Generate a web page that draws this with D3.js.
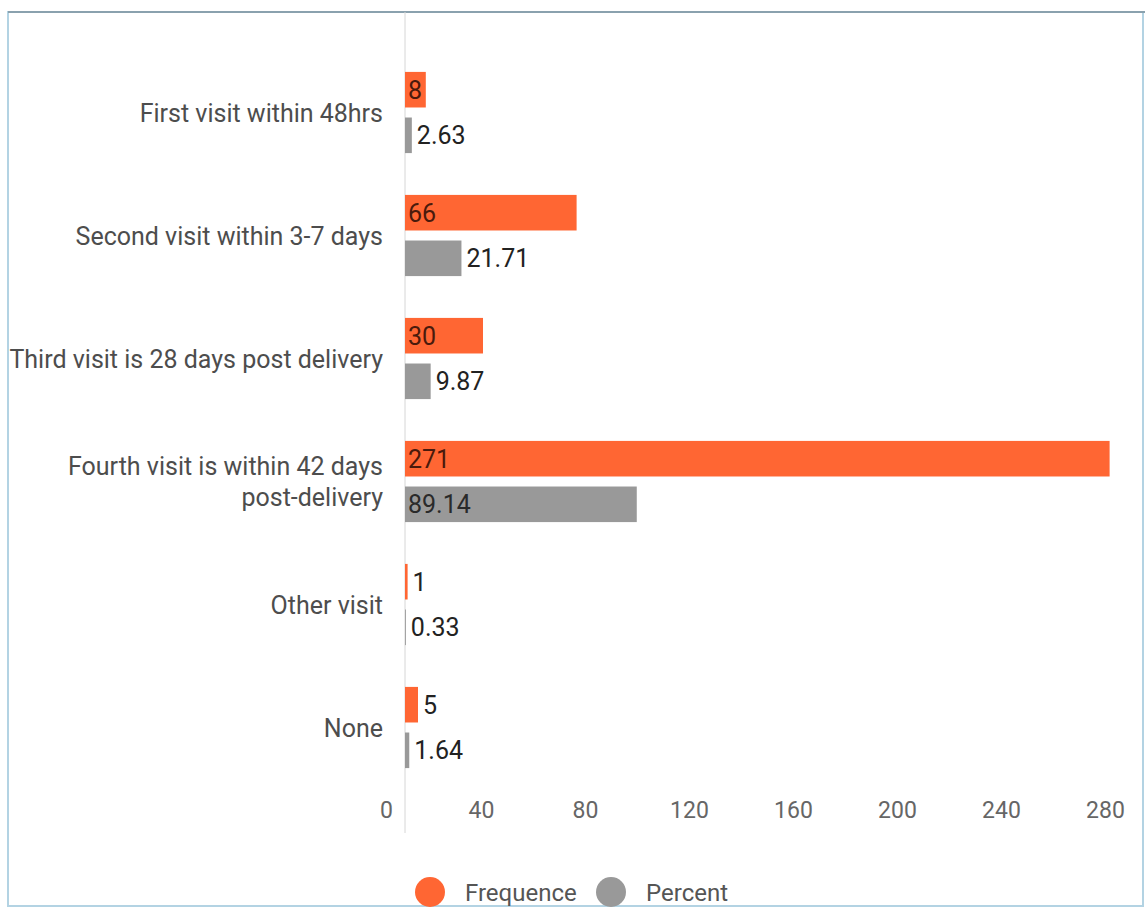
<!DOCTYPE html>
<html>
<head>
<meta charset="utf-8">
<script src="https://cdn.jsdelivr.net/npm/d3@7/dist/d3.min.js"></script>
<style>
  html, body { margin: 0; padding: 0; background: #fff; }
  svg { display: block; font-family: Roboto, "Noto Sans", sans-serif; }
</style>
</head>
<body>
<svg id="chart" width="1145" height="908"></svg>
<script>
const categories = [
  "First visit within 48hrs",
  "Second visit within 3-7 days",
  "Third visit is 28 days post delivery",
  "Fourth visit is within 42 days post-delivery",
  "Other visit",
  "None"
];
const categoryLines = [
  ["First visit within 48hrs"],
  ["Second visit within 3-7 days"],
  ["Third visit is 28 days post delivery"],
  ["Fourth visit is within 42 days", "post-delivery"],
  ["Other visit"],
  ["None"]
];
const seriesNames = ["Frequence", "Percent"];
const frequence = [8, 66, 30, 271, 1, 5];
const percent = [2.63, 21.71, 9.87, 89.14, 0.33, 1.64];
const percentLabels = ["2.63", "21.71", "9.87", "89.14", "0.33", "1.64"];
const tickValues = [0, 40, 80, 120, 160, 200, 240, 280];
const colors = ["#ff6633", "#999999"];

const svg = d3.select("#chart");

// frame
svg.append("rect").attr("x", 8).attr("y", 12).attr("width", 1135).attr("height", 894)
  .attr("fill", "none").attr("stroke", "#b3d3e3").attr("stroke-width", 2);
svg.append("line").attr("x1", 8).attr("x2", 1145).attr("y1", 12).attr("y2", 12)
  .attr("stroke", "#8aa1ae").attr("stroke-width", 2);

const x = d3.scaleLinear().domain([0, 280]).range([405, 1133]);
const y = d3.scaleBand().domain(categories).range([51, 789]).paddingInner(0.34).paddingOuter(0.17);
const ySub = d3.scaleBand().domain(seriesNames).range([0, y.bandwidth()]).paddingInner(0.22).paddingOuter(0);

// vertical axis line
svg.append("line").attr("x1", x(0)).attr("x2", x(0)).attr("y1", 12).attr("y2", 833)
  .attr("stroke", "#d6d6d6").attr("stroke-width", 1);

const rows = categories.map((c, i) => ({
  cat: c, lines: categoryLines[i],
  vals: [
    {s: "Frequence", v: frequence[i], label: String(frequence[i]), color: colors[0]},
    {s: "Percent", v: percent[i], label: percentLabels[i], color: colors[1]}
  ]
}));

const g = svg.selectAll("g.row").data(rows).join("g").attr("class", "row")
  .attr("transform", d => `translate(0,${y(d.cat)})`);

g.selectAll("rect.bar").data(d => d.vals).join("rect").attr("class", "bar")
  .attr("x", x(0))
  .attr("y", d => ySub(d.s))
  .attr("width", d => x(d.v) - x(0))
  .attr("height", ySub.bandwidth())
  .attr("fill", d => d.color);

g.selectAll("text.val").data(d => d.vals).join("text").attr("class", "val")
  .attr("y", d => ySub(d.s) + ySub.bandwidth() / 2)
  .attr("dy", "0.36em")
  .attr("font-size", 25)
  .text(d => d.label)
  .each(function(d) {
    const w = this.getComputedTextLength();
    const bw = x(d.v) - x(0);
    const inside = w + 6 <= bw;
    d3.select(this)
      .attr("x", inside ? x(0) + 3 : x(d.v) + 5)
      .attr("fill", inside ? (d.s === "Frequence" ? "#4a1a0c" : "#2a2a2a") : "#222");
  });

// category labels
const labelG = svg.append("g");
rows.forEach(r => {
  const cy = y(r.cat) + y.bandwidth() / 2;
  const n = r.lines.length;
  const lh = 31;
  const t = labelG.append("text")
    .attr("text-anchor", "end")
    .attr("font-size", 25)
    .attr("fill", "#4d4d4d");
  r.lines.forEach((ln, j) => {
    t.append("tspan").attr("x", 383)
      .attr("y", cy + (j - (n - 1) / 2) * lh)
      .attr("dy", "0.36em")
      .text(ln);
  });
});

// x axis
const axis = d3.axisBottom(x).tickValues(tickValues).tickSize(0).tickPadding(0).tickFormat(d3.format("d"));
const ax = svg.append("g").attr("transform", "translate(-28,810)").call(axis);
ax.select(".domain").remove();
ax.selectAll("text").attr("font-size", 23).attr("fill", "#666").attr("dy", "0.36em")
  .attr("font-family", "Roboto, sans-serif")
  .attr("dx", d => d === 0 ? 9 : 0);

// legend
const legend = svg.append("g");
const legendX = [430, 611];
seriesNames.forEach((s, i) => {
  legend.append("circle").attr("cx", legendX[i]).attr("cy", 892).attr("r", 15).attr("fill", colors[i]);
  legend.append("text").attr("x", legendX[i] + 35).attr("y", 892).attr("dy", "0.36em")
    .attr("font-size", 24).attr("fill", "#555").text(s);
});
</script>
</body>
</html>
